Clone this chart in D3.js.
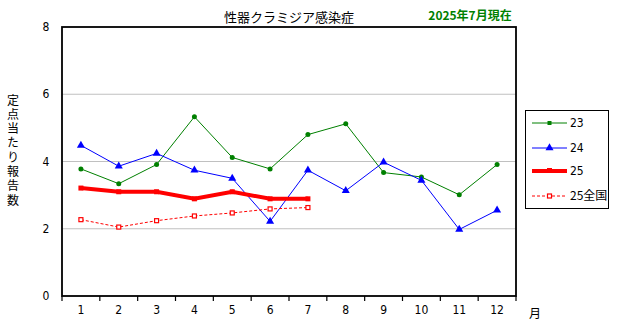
<!DOCTYPE html>
<html><head><meta charset="utf-8">
<script src="https://cdn.jsdelivr.net/npm/d3@7"></script>
<style>
body{margin:0;background:#fff;}
text{font-family:"Liberation Sans Narrow","DejaVu Sans Condensed","Liberation Sans",sans-serif;}
.cjk{font-family:"Noto Sans CJK JP","Noto Sans",sans-serif;}
</style></head>
<body><svg id="c" width="617" height="328"></svg>
<script>
const months = ["1","2","3","4","5","6","7","8","9","10","11","12"];
const yTicks = [0,2,4,6,8];
const s23 = [3.78,3.34,3.91,5.33,4.12,3.78,4.80,5.12,3.67,3.54,3.01,3.91];
const s24 = [4.48,3.86,4.24,3.74,3.50,2.22,3.74,3.13,3.98,3.44,1.98,2.55];
const s25 = [3.21,3.10,3.10,2.89,3.10,2.89,2.89];
const s25all = [2.27,2.05,2.24,2.38,2.47,2.59,2.63];
const seriesNames = ["23","24","25","25全国"];
const title = "性器クラミジア感染症";
const subtitle = "2025年7月現在";
const yLabel = "定点当たり報告数";
const xUnit = "月";

const svg = d3.select("#c");
const L=62,R=516,T=27,B=296;
const x = d3.scaleBand().domain(months).range([L,R]).padding(0);
const y = d3.scaleLinear().domain([0,8]).range([B,T]);

// grid
svg.append("g").selectAll("line").data([2,4,6]).join("line")
  .attr("x1",L).attr("x2",R).attr("y1",d=>y(d)).attr("y2",d=>y(d))
  .attr("stroke","#c0c0c0").attr("stroke-width",1.2);

// frame
svg.append("rect").attr("x",L).attr("y",T).attr("width",R-L).attr("height",B-T)
  .attr("fill","none").attr("stroke","#000").attr("stroke-width",1.8);

// x axis ticks at band boundaries
const bounds = months.map(m=>x(m)).concat([R]);
svg.append("g").selectAll("line").data(bounds).join("line")
  .attr("x1",d=>d).attr("x2",d=>d).attr("y1",B).attr("y2",B+5)
  .attr("stroke","#000").attr("stroke-width",1.2);
svg.append("g").selectAll("text").data(months).join("text")
  .attr("x",d=>x(d)+x.bandwidth()/2).attr("y",314)
  .attr("text-anchor","middle").attr("font-size",12).text(d=>d);

// y tick labels
svg.append("g").selectAll("text").data(yTicks).join("text")
  .attr("x",46).attr("y",d=>y(d)+4).attr("text-anchor","middle")
  .attr("font-size",12).text(d=>d);

// titles
svg.append("text").attr("class","cjk").attr("x",289).attr("y",22).attr("text-anchor","middle")
  .attr("font-size",13).text(title);
svg.append("text").attr("class","cjk").attr("x",470).attr("y",20).attr("text-anchor","middle")
  .attr("font-size",12).attr("font-weight","bold").attr("fill","#008000").text(subtitle);
svg.append("text").attr("class","cjk").attr("x",535).attr("y",318).attr("text-anchor","middle")
  .attr("font-size",12).text(xUnit);

// vertical y label
svg.append("text").attr("class","cjk").attr("x",13).attr("y",94)
  .attr("writing-mode","vertical-rl").attr("letter-spacing","2.3px")
  .attr("font-size",12).text(yLabel);

const cx = i=>x(months[i])+x.bandwidth()/2;
const line = d3.line().x((d,i)=>cx(i)).y(d=>y(d));

function drawSeries(data,color,width,dash){
  svg.append("path").datum(data).attr("d",line).attr("fill","none")
    .attr("stroke",color).attr("stroke-width",width).attr("stroke-dasharray",dash||null);
}
drawSeries(s23,"#008000",1);
drawSeries(s24,"#0000ff",1);
drawSeries(s25all,"#ff0000",1,"3,2");
drawSeries(s25,"#ff0000",4);

// markers
svg.append("g").selectAll("circle").data(s23).join("circle")
  .attr("cx",(d,i)=>cx(i)).attr("cy",d=>y(d)).attr("r",2.5).attr("fill","#008000");
const tri = d3.symbol().type(d3.symbolTriangle).size(28);
svg.append("g").selectAll("path").data(s24).join("path")
  .attr("d",tri).attr("transform",(d,i)=>`translate(${cx(i)},${y(d)})`).attr("fill","#0000ff");
svg.append("g").selectAll("rect").data(s25).join("rect")
  .attr("x",(d,i)=>cx(i)-2.5).attr("y",d=>y(d)-2.5).attr("width",5).attr("height",5).attr("fill","#ff0000");
svg.append("g").selectAll("rect").data(s25all).join("rect")
  .attr("x",(d,i)=>cx(i)-2).attr("y",d=>y(d)-2).attr("width",4).attr("height",4)
  .attr("fill","#fff").attr("stroke","#ff0000").attr("stroke-width",1.2);

// legend
const lg = svg.append("g");
lg.append("rect").attr("x",525.5).attr("y",110.5).attr("width",83).attr("height",98)
  .attr("fill","#fff").attr("stroke","#000").attr("stroke-width",1);
const ly = [123,148,171,196];
const styles = [
  {c:"#008000",w:1,m:"circle"},
  {c:"#0000ff",w:1,m:"tri"},
  {c:"#ff0000",w:4,m:"sq"},
  {c:"#ff0000",w:1,m:"hsq",dash:"3,2"}];
seriesNames.forEach((n,i)=>{
  const s=styles[i];
  lg.append("line").attr("x1",532).attr("x2",567).attr("y1",ly[i]).attr("y2",ly[i])
    .attr("stroke",s.c).attr("stroke-width",s.w).attr("stroke-dasharray",s.dash||null);
  if(s.m==="circle") lg.append("rect").attr("x",547.5).attr("y",ly[i]-2).attr("width",4).attr("height",4).attr("fill",s.c);
  if(s.m==="tri") lg.append("path").attr("d",tri).attr("transform",`translate(549.5,${ly[i]})`).attr("fill",s.c);
  if(s.m==="sq") lg.append("rect").attr("x",547).attr("y",ly[i]-3).attr("width",5).attr("height",5).attr("fill",s.c);
  if(s.m==="hsq") lg.append("rect").attr("x",547.5).attr("y",ly[i]-2).attr("width",4).attr("height",4)
    .attr("fill","#fff").attr("stroke",s.c).attr("stroke-width",1.2);
  lg.append("text").attr("class", i===3?"cjk":null).attr("x",570).attr("y",ly[i]+4)
    .attr("font-size",12).text(n);
});
</script></body></html>
